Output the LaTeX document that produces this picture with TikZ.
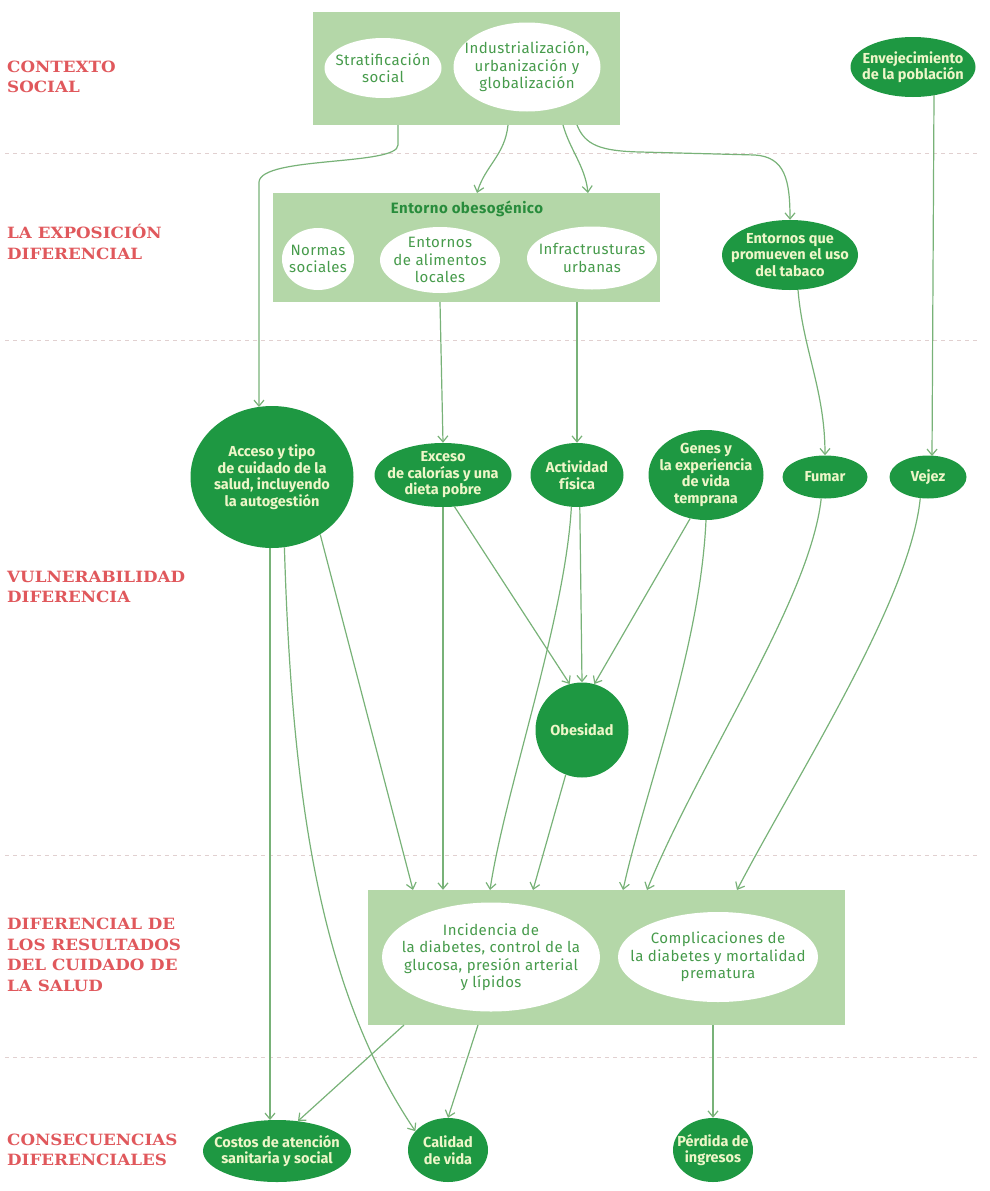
\documentclass[tikz,border=0pt]{standalone}
\usepackage{fontspec}
\setmainfont{Fira Sans}
\newfontfamily\wfont[LetterSpace=3]{Fira Sans}
\newfontfamily\lblfont[FakeStretch=1.08]{DejaVu Serif}
\usetikzlibrary{shapes.geometric,arrows.meta}
\definecolor{dg}{RGB}{30,152,66}
\definecolor{lg}{RGB}{180,215,168}
\definecolor{wt}{RGB}{70,155,75}
\definecolor{tg}{RGB}{40,140,60}
\definecolor{gt}{RGB}{238,246,200}
\definecolor{ac}{RGB}{120,178,120}
\definecolor{rl}{RGB}{224,88,92}
\definecolor{sepc}{RGB}{225,208,208}
\tikzset{
  boxg/.style={rectangle, fill=lg, inner sep=0pt},
  wn/.style={ellipse, fill=white, inner sep=0pt},
  gn/.style={ellipse, fill=dg, inner sep=0pt},
  wtx/.style={text=wt, align=center, inner sep=0pt, font=\wfont\fontsize{15}{17.5}\selectfont},
  gtx/.style={text=gt, align=center, inner sep=0pt, font=\bfseries\fontsize{14.5}{16.5}\selectfont},
  arr/.style={draw=ac, line width=1.2pt, -{Straight Barb[length=6pt,width=10pt]}},
  sepl/.style={draw=sepc, line width=1pt, dash pattern=on 4pt off 4pt},
  lbl/.style={anchor=west, align=left, text=rl, inner sep=0pt, font=\lblfont\bfseries\fontsize{15.5}{20.5}\selectfont},
}
\begin{document}
\begin{tikzpicture}[x=1pt,y=-1pt]
\useasboundingbox (0,0) rectangle (989,1191);
% separators
\foreach \yy in {153,340,855,1057} \draw[sepl] (5,\yy) -- (978,\yy);
% left labels
\node[lbl] (l1) at (7,77) {CONTEXTO\\SOCIAL};
\node[lbl] (l2) at (7,242) {LA EXPOSICIÓN\\DIFERENCIAL};
\node[lbl] (l3) at (7,587) {VULNERABILIDAD\\DIFERENCIA};
\node[lbl] (l4) at (7,955) {DIFERENCIAL DE\\LOS RESULTADOS\\DEL CUIDADO DE\\LA SALUD};
\node[lbl] (l5) at (7,1150) {CONSECUENCIAS\\DIFERENCIALES};
% social context
\node[boxg, minimum width=307pt, minimum height=113pt] (top) at (466.5,68.5) {};
\node[wn, minimum width=117pt, minimum height=60pt, label={[wtx]center:{Stratificación\\social}}] (strat) at (383,68) {};
\node[wn, minimum width=147pt, minimum height=89pt, label={[wtx]center:{Industrialización,\\urbanización y\\globalización}}] (indu) at (527,67) {};
\node[gn, minimum width=125pt, minimum height=60pt, label={[gtx]center:{Envejecimiento\\de la población}}] (envej) at (913,67) {};
% exposure
\node[boxg, minimum width=387pt, minimum height=109pt] (exp) at (466.5,247.5) {};
\node[text=tg, font=\wfont\bfseries\fontsize{15}{17}\selectfont, inner sep=0pt] (eo) at (467,209) {Entorno obesogénico};
\node[wn, minimum width=72pt, minimum height=62pt, label={[wtx]center:{Normas\\sociales}}] (normas) at (318,259) {};
\node[wn, minimum width=120pt, minimum height=66pt, label={[wtx]center:{Entornos\\de alimentos\\locales}}] (alim) at (440,260) {};
\node[wn, minimum width=130pt, minimum height=63pt, label={[wtx]center:{Infractrusturas\\urbanas}}] (infra) at (592,258) {};
\node[gn, minimum width=136pt, minimum height=70pt, label={[gtx]center:{Entornos que\\promueven el uso\\del tabaco}}] (tabaco) at (790,255) {};
% vulnerability
\node[gn, minimum width=163pt, minimum height=142pt, label={[gtx]center:{Acceso y tipo\\de cuidado de la\\salud, incluyendo\\la autogestión}}] (acc) at (272,477) {};
\node[gn, minimum width=137pt, minimum height=64pt, label={[gtx]center:{Exceso\\de calorías y una\\dieta pobre}}] (exc) at (443,475) {};
\node[gn, minimum width=93pt, minimum height=64pt, label={[gtx]center:{Actividad\\física}}] (act) at (577,475) {};
\node[gn, minimum width=115pt, minimum height=90pt, label={[gtx]center:{Genes y\\la experiencia\\de vida\\temprana}}] (gen) at (706,475) {};
\node[gn, minimum width=85pt, minimum height=43pt, label={[gtx]center:{Fumar}}] (fum) at (825,477) {};
\node[gn, minimum width=77pt, minimum height=43pt, label={[gtx]center:{Vejez}}] (vej) at (928,477) {};
\node[gn, minimum width=93pt, minimum height=95pt, label={[gtx]center:{Obesidad}}] (obe) at (582,730) {};
% outcomes
\node[boxg, minimum width=477pt, minimum height=135pt] (oc) at (606.5,957.5) {};
\node[wn, minimum width=218pt, minimum height=109pt, label={[wtx]center:{Incidencia de\\la diabetes, control de la\\glucosa, presión arterial\\y lípidos}}] (inc) at (491,957) {};
\node[wn, minimum width=200pt, minimum height=90pt, label={[wtx]center:{Complicaciones de\\la diabetes y mortalidad\\prematura}}] (comp) at (718,957) {};
% consequences
\node[gn, minimum width=148pt, minimum height=62pt, label={[gtx]center:{Costos de atención\\sanitaria y social}}] (cost) at (277,1151) {};
\node[gn, minimum width=80pt, minimum height=64pt, label={[gtx]center:{Calidad\\de vida}}] (cal) at (448,1150) {};
\node[gn, minimum width=80pt, minimum height=64pt, label={[gtx]center:{Pérdida de\\ingresos}}] (per) at (713,1150) {};
% connector end points
\coordinate (t1) at (398,125);
\coordinate (t2) at (508,125);
\coordinate (t3) at (563,125);
\coordinate (t4) at (577,125);
\coordinate (accin) at (259,407);
\coordinate (x1) at (477,193);
\coordinate (x2) at (588,193);
\coordinate (e1) at (934,95);
\coordinate (e2) at (932,456);
\coordinate (tb) at (798,290);
\coordinate (in1) at (413,890);
\coordinate (in3) at (490,890);
\coordinate (in4) at (533,890);
\coordinate (in5) at (623,890);
\coordinate (in6) at (647,890);
\coordinate (in7) at (737,890);
\coordinate (out1) at (404,1025);
\coordinate (out2) at (478,1025);
\coordinate (cin) at (270,1120);
% connectors
\draw[arr] (t1) -- (398,145) .. controls (398,166) and (261,156) .. (259,182) -- (accin);
\draw[arr] (t2) .. controls (505,155) and (485,166) .. (x1);
\draw[arr] (t3) .. controls (570,150) and (585,166) .. (x2);
\draw[arr] (t4) .. controls (585,145) and (600,151) .. (640,152) -- (755,155) .. controls (785,157) and (790,180) .. (tabaco.north);
\draw[arr] (e1) -- (e2);
\draw[arr] (exp.south -| alim) -- (exc.north);
\draw[arr] (exp.south -| act) -- (act.north);
\draw[arr] (tb) .. controls (803,350) and (825,390) .. (fum.north);
\draw[arr] (exc.-70) -- (obe.105);
\draw[arr] (act.-85) -- (obe.north);
\draw[arr] (gen.-110) -- (obe.75);
\draw[arr] (exc.south) -- (oc.north -| exc);
\draw[arr] (acc.-50) -- (in1);
\draw[arr] (acc.south -| cin) -- (cin);
\draw[arr] (acc.-80) .. controls (292,800) and (320,990) .. (cal.150);
\draw[arr] (act.-100) .. controls (565,620) and (505,790) .. (in3);
\draw[arr] (obe.-110) -- (in4);
\draw[arr] (gen.south) .. controls (700,650) and (645,790) .. (in5);
\draw[arr] (fum.-100) .. controls (810,600) and (700,760) .. (in6);
\draw[arr] (vej.-110) .. controls (910,600) and (800,770) .. (in7);
\draw[arr] (out1) -- (cost.55);
\draw[arr] (out2) -- (cal.north);
\draw[arr] (oc.south -| per) -- (per.north);
\end{tikzpicture}
\end{document}
